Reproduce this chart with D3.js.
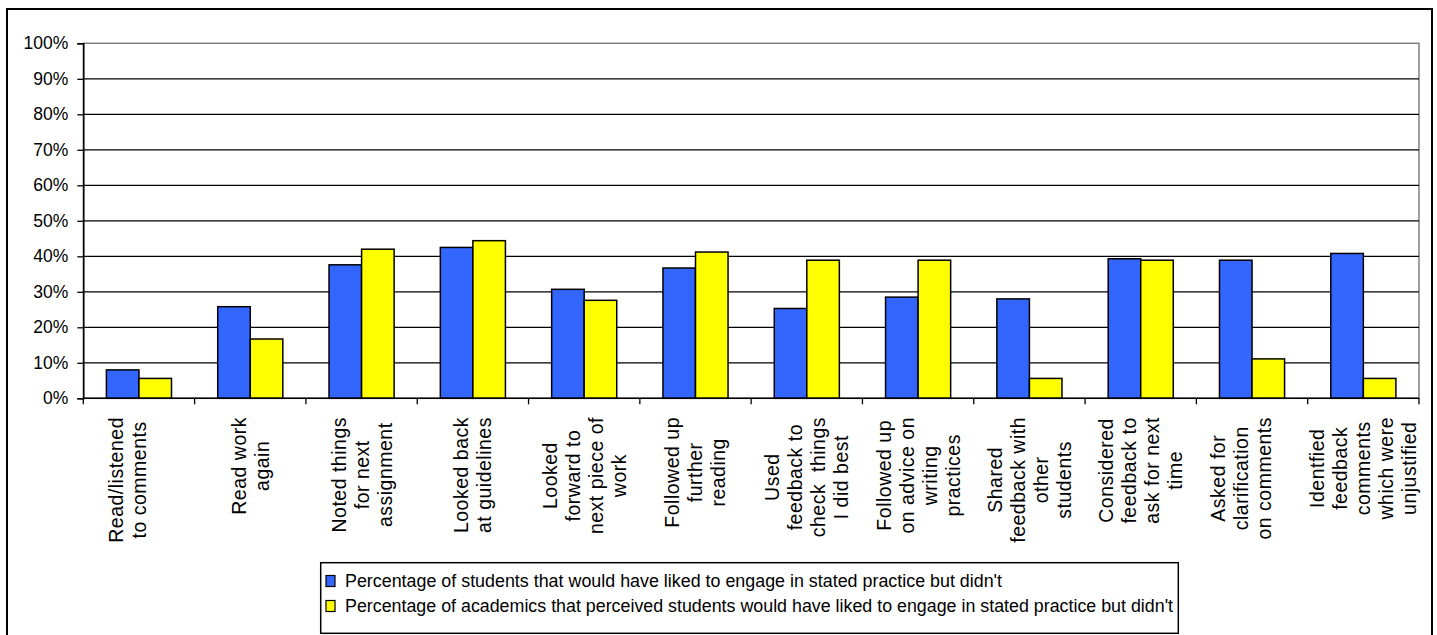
<!DOCTYPE html>
<html><head><meta charset="utf-8">
<script src="https://cdn.jsdelivr.net/npm/d3@7/dist/d3.min.js"></script>
<style>
body{margin:0;background:#fff;}
svg{display:block;font-family:"Liberation Sans",Arial,sans-serif;}
</style>
</head><body>
<svg id="chart" width="1437" height="635"></svg>
<script>
// ---- data ----
const categories = [
  "Read/listened to comments",
  "Read work again",
  "Noted things for next assignment",
  "Looked back at guidelines",
  "Looked forward to next piece of work",
  "Followed up further reading",
  "Used feedback to check things I did best",
  "Followed up on advice on writing practices",
  "Shared feedback with other students",
  "Considered feedback to ask for next time",
  "Asked for clarification on comments",
  "Identfied feedback comments which were unjustified"
];
const labelLines = [
  ["Read/listened", "to comments", ""],
  ["Read work", "again"],
  ["Noted things", "for next", "assignment"],
  ["Looked back", "at guidelines"],
  ["Looked", "forward to", "next piece of", "work"],
  ["Followed up", "further", "reading"],
  ["Used", "feedback to", "check  things", "I did best"],
  ["Followed up", "on advice on", "writing", "practices"],
  ["Shared", "feedback with", "other", "students"],
  ["Considered", "feedback to", "ask for next", "time"],
  ["Asked for", "clarification", "on comments", ""],
  ["Identfied", "feedback", "comments", "which were", "unjustified"]
];
const seriesNames = [
  "Percentage of students that would have liked to engage in stated practice but didn't",
  "Percentage of academics that perceived students would have liked to engage in stated practice but didn't"
];
const students  = [8.0, 25.8, 37.6, 42.5, 30.7, 36.7, 25.3, 28.5, 28.0, 39.3, 38.9, 40.8];
const academics = [5.6, 16.7, 42.0, 44.4, 27.6, 41.2, 38.9, 38.9, 5.6, 38.9, 11.1, 5.6];
const yTicks = [0, 10, 20, 30, 40, 50, 60, 70, 80, 90, 100];
const seriesColors = ["#3366FF", "#FFFF00"];

// ---- layout ----
const svg = d3.select("#chart");
const plot = {left: 83.3, right: 1419, top: 43.3, bottom: 398.3};

svg.append("rect").attr("x", 7).attr("y", 9).attr("width", 1425).attr("height", 650)
  .attr("fill", "#fff").attr("stroke", "#000").attr("stroke-width", 2);

const x = d3.scaleBand().domain(categories).range([plot.left, plot.right]).padding(0);
const xs = d3.scaleBand().domain([0, 1]).range([0, x.bandwidth()]).paddingInner(0).paddingOuter(0.71);
const y = d3.scaleLinear().domain([0, 100]).range([plot.bottom, plot.top]);

// plot area border (gray)
svg.append("rect").attr("x", plot.left).attr("y", plot.top)
  .attr("width", plot.right - plot.left).attr("height", plot.bottom - plot.top)
  .attr("fill", "none").attr("stroke", "#808080").attr("stroke-width", 1.5);

// gridlines
svg.append("g").selectAll("line").data(yTicks.filter(d => d > 0 && d < 100)).join("line")
  .attr("x1", plot.left).attr("x2", plot.right)
  .attr("y1", d => y(d)).attr("y2", d => y(d))
  .attr("stroke", "#000").attr("stroke-width", 1.3);

// bars
const data = categories.map((c, i) => ({c, vals: [students[i], academics[i]]}));
const groups = svg.append("g").selectAll("g").data(data).join("g")
  .attr("transform", d => `translate(${x(d.c)},0)`);
groups.selectAll("rect").data(d => d.vals.map((v, k) => ({v, k}))).join("rect")
  .attr("x", d => xs(d.k)).attr("width", xs.bandwidth())
  .attr("y", d => y(d.v)).attr("height", d => y(0) - y(d.v))
  .attr("fill", d => seriesColors[d.k]).attr("stroke", "#000").attr("stroke-width", 1.5);

// y axis
const yAxis = svg.append("g").attr("transform", `translate(${plot.left},0)`)
  .call(d3.axisLeft(y).tickValues(yTicks).tickFormat(d => d + "%").tickSize(6).tickPadding(9));
yAxis.select(".domain").attr("stroke", "#000").attr("stroke-width", 1.5);
yAxis.selectAll(".tick line").attr("stroke", "#000").attr("stroke-width", 1.3);
yAxis.selectAll("text").attr("font-size", 17.5).attr("fill", "#000")
  .attr("font-family", "'Liberation Sans', Arial, sans-serif");

// x axis (ticks at category boundaries)
const boundaries = categories.map(c => x(c)).concat([plot.right]);
svg.append("line").attr("x1", plot.left).attr("x2", plot.right)
  .attr("y1", plot.bottom).attr("y2", plot.bottom).attr("stroke", "#000").attr("stroke-width", 1.5);
svg.append("g").selectAll("line").data(boundaries).join("line")
  .attr("x1", d => d).attr("x2", d => d).attr("y1", plot.bottom).attr("y2", plot.bottom + 6)
  .attr("stroke", "#000").attr("stroke-width", 1.3);

// category labels (rotated, lines centered, block top-aligned)
const labelTop = 417, lineH = 23;
categories.forEach((c, i) => {
  const lines = labelLines[i];
  const cx = x(c) + x.bandwidth() / 2;
  const g = svg.append("g").attr("transform", `translate(${cx},${labelTop}) rotate(-90)`);
  const texts = g.selectAll("text").data(lines).join("text")
    .attr("font-size", 19.5).attr("letter-spacing", "0.5px").attr("fill", "#000")
    .attr("text-anchor", "middle").attr("dominant-baseline", "central")
    .style("white-space", "pre")
    .text(d => d);
  let maxW = 0;
  texts.each(function() { maxW = Math.max(maxW, this.getComputedTextLength()); });
  const n = lines.length;
  texts.attr("x", -maxW / 2).attr("y", (d, j) => (j - (n - 1) / 2) * lineH);
});

// legend
const legend = svg.append("g");
legend.append("rect").attr("x", 320.7).attr("y", 562.7).attr("width", 857.6).attr("height", 70.6)
  .attr("fill", "#fff").attr("stroke", "#000").attr("stroke-width", 1.5);
const legendWidths = [657, 828];
seriesNames.forEach((name, k) => {
  const cy = 581 + k * 25;
  legend.append("rect").attr("x", 326).attr("y", cy - 5.5).attr("width", 9).attr("height", 11)
    .attr("fill", seriesColors[k]).attr("stroke", "#000").attr("stroke-width", 1.2);
  legend.append("text").attr("x", 345).attr("y", cy).attr("dominant-baseline", "central")
    .attr("font-size", 17.5).attr("fill", "#000")
    .attr("textLength", legendWidths[k]).attr("lengthAdjust", "spacingAndGlyphs")
    .text(name);
});
</script>
</body></html>
